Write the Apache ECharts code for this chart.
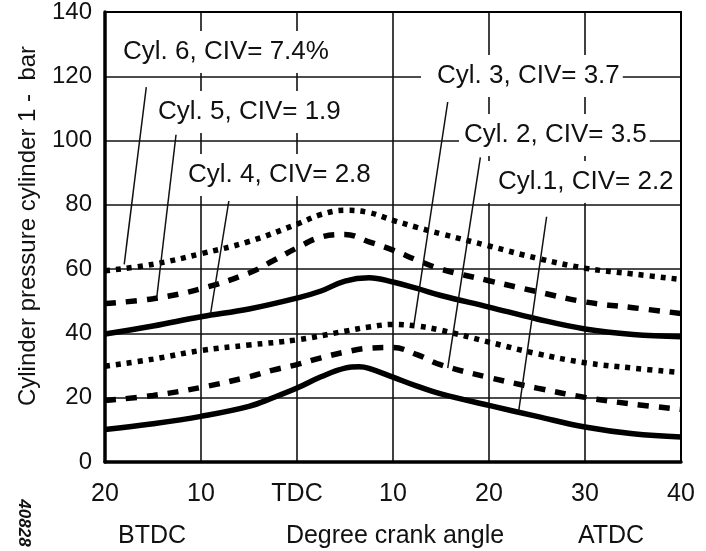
<!DOCTYPE html>
<html>
<head>
<meta charset="utf-8">
<script src="https://cdn.jsdelivr.net/npm/echarts@6/dist/echarts.min.js"></script>
<style>html,body{margin:0;padding:0;background:#fff}#c{width:706px;height:551px}</style>
</head>
<body>
<div id="c"></div>
<script>
// ---- data ----
const xTickLabels = ['20', '10', 'TDC', '10', '20', '30', '40'];
const yTicks = [0, 20, 40, 60, 80, 100, 120, 140];

const xCyl6 = [-20, -15, -10, -5, 0, 2.5, 5, 7.5, 10, 12.5, 15, 20, 25, 30, 35, 40];
const cyl6 = [59.5, 61.5, 64.8, 68.6, 74, 77, 78.3, 77.6, 75.2, 73, 71, 67.2, 63.4, 60.3, 58.5, 56.8];

const xCyl5 = [-20, -15, -10, -5, -2.5, 0, 2.5, 5, 7.5, 10, 12.5, 15, 20, 25, 30, 35, 40];
const cyl5 = [49.3, 50.8, 53.9, 58.8, 62.6, 66.6, 70, 70.8, 68.5, 65.9, 62.8, 60, 56.4, 53, 49.8, 48, 46.2];

const xCyl4 = [-20, -15, -10, -5, 0, 2.5, 5, 7.5, 10, 12.5, 15, 20, 25, 30, 35, 40];
const cyl4 = [39.8, 42.3, 45.2, 47.6, 51, 53.2, 56.3, 57.3, 56, 54, 51.8, 48.2, 44.5, 41.4, 39.7, 39];

const xCyl3 = [-20, -15, -10, -5, 0, 5, 7.5, 10, 12.5, 15, 20, 25, 30, 35, 40];
const cyl3 = [29.8, 32, 34.7, 36.4, 38, 40.7, 42, 42.8, 42.3, 41, 37.3, 33.7, 30.9, 29.2, 27.8];

const xCyl2 = [-20, -15, -10, -5, -2.5, 0, 2.5, 5, 7.5, 10, 12.5, 15, 20, 25, 30, 35, 40];
const cyl2 = [19.1, 20.7, 23.2, 26.5, 28.6, 30.3, 32.4, 34.2, 35.4, 35.6, 33.4, 30.2, 26.3, 23, 20.1, 18, 16.4];

const xCyl1 = [-20, -15, -10, -5, -2.5, 0, 2.5, 5, 6.5, 7.5, 10, 12.5, 15, 20, 25, 30, 35, 40];
const cyl1 = [10.1, 11.9, 14.2, 17.3, 20, 23, 26.5, 29.2, 29.6, 29.1, 26.4, 23.6, 21.2, 17.6, 14.2, 10.9, 8.8, 7.8];

const seriesNames = ['Cyl. 6, CIV= 7.4%', 'Cyl. 5, CIV= 1.9', 'Cyl. 4, CIV= 2.8',
                     'Cyl. 3, CIV= 3.7', 'Cyl. 2, CIV= 3.5', 'Cyl.1, CIV= 2.2'];

// leader lines: [label end (x,y), curve end (x,y)] in data units
const leader6 = [[-15.7, 116.6], [-18.0, 61.5]];
const leader5 = [[-12.6, 101.8], [-14.6, 51.4]];
const leader4 = [[-7.1, 81.2], [-9.0, 46.2]];
const leader3 = [[15.7, 112.0], [12.2, 43.1]];
const leader2 = [[19.1, 94.8], [15.7, 29.2]];
const leader1 = [[26.0, 76.3], [23.1, 16.0]];

// ---- build ----
function pairs(xs, ys) { return xs.map((x, i) => [x, ys[i]]); }
function leaderMark(l) {
  return {
    silent: true, symbol: 'none', animation: false,
    label: { show: false },
    lineStyle: { color: '#111', width: 1.5, type: 'solid' },
    data: [[{ coord: l[0] }, { coord: l[1] }]]
  };
}
const DOT = { type: [5, 6], cap: 'butt' };
const DASH = { type: [11, 10], cap: 'butt' };
const SOLID = { type: 'solid' };
const defs = [
  [xCyl6, cyl6, DOT, leader6],
  [xCyl5, cyl5, DASH, leader5],
  [xCyl4, cyl4, SOLID, leader4],
  [xCyl3, cyl3, DOT, leader3],
  [xCyl2, cyl2, DASH, leader2],
  [xCyl1, cyl1, SOLID, leader1]
];
const series = defs.map((d, i) => ({
  name: seriesNames[i],
  type: 'line',
  smooth: 0.4,
  showSymbol: false,
  animation: false,
  z: 3,
  lineStyle: Object.assign({ color: '#000', width: 5.5 }, d[2]),
  data: pairs(d[0], d[1]),
  markLine: leaderMark(d[3])
}));

const FONT = '"Liberation Sans", Arial, Helvetica, sans-serif';
// text left edge, text centre y, background padding [top,right,bottom,left]
const labelPos = [
  { x: 123, y: 52, pad: [8, 6, 8, 6] },
  { x: 158, y: 112, pad: [8, 6, 8, 6] },
  { x: 188, y: 175, pad: [8, 6, 8, 6] },
  { x: 437, y: 76, pad: [8, 3, 8, 16] },
  { x: 464, y: 135, pad: [8, 3, 8, 5] },
  { x: 498, y: 182, pad: [8, 3, 8, 10] }
];
const graphics = seriesNames.map((n, i) => ({
  type: 'text', z: 1, silent: true,
  x: labelPos[i].x - labelPos[i].pad[3], y: labelPos[i].y,
  style: {
    text: n, font: '26px ' + FONT, fill: '#111',
    align: 'left', verticalAlign: 'middle',
    backgroundColor: '#fff', padding: labelPos[i].pad
  }
}));
graphics.push(
  { type: 'text', silent: true, x: 28, y: 226, rotation: Math.PI / 2,
    style: { text: 'Cylinder pressure cylinder 1 -  bar', font: '24px ' + FONT, fill: '#111', align: 'center', verticalAlign: 'middle' } },
  { type: 'text', silent: true, x: 152, y: 536,
    style: { text: 'BTDC', font: '25px ' + FONT, fill: '#111', align: 'center', verticalAlign: 'middle' } },
  { type: 'text', silent: true, x: 395, y: 536,
    style: { text: 'Degree crank angle', font: '25px ' + FONT, fill: '#111', align: 'center', verticalAlign: 'middle' } },
  { type: 'text', silent: true, x: 611, y: 536,
    style: { text: 'ATDC', font: '25px ' + FONT, fill: '#111', align: 'center', verticalAlign: 'middle' } },
  { type: 'text', silent: true, x: 24, y: 523, rotation: -Math.PI / 2,
    style: { text: '40828', font: 'italic bold 17px ' + FONT, fill: '#111', align: 'center', verticalAlign: 'middle' } }
);

const chart = echarts.init(document.getElementById('c'), null, { renderer: 'canvas' });
chart.setOption({
  backgroundColor: '#fff',
  animation: false,
  grid: { left: 105, right: 25, top: 7, bottom: 89, containLabel: false },
  xAxis: [{
    type: 'value', min: -20, max: 40, interval: 10,
    axisLine: { show: true, lineStyle: { color: '#000', width: 3.5 } },
    axisTick: { show: false },
    axisLabel: { margin: 20, fontSize: 25, fontFamily: FONT, color: '#111',
      formatter: v => xTickLabels[Math.round((v + 20) / 10)] },
    splitLine: { show: true, lineStyle: { color: '#111', width: 1.6 } }
  }, {
    type: 'value', position: 'top', min: -20, max: 40, interval: 10,
    axisLine: { show: true, onZero: false, lineStyle: { color: '#000', width: 2 } },
    axisTick: { show: false }, axisLabel: { show: false }, splitLine: { show: false }
  }],
  yAxis: [{
    type: 'value', min: yTicks[0], max: yTicks[yTicks.length - 1], interval: 20,
    axisLine: { show: true, onZero: false, lineStyle: { color: '#000', width: 3.5 } },
    axisTick: { show: false },
    axisLabel: { margin: 13, fontSize: 24, fontFamily: FONT, color: '#111' },
    splitLine: { show: true, lineStyle: { color: '#111', width: 1.6 } }
  }, {
    type: 'value', position: 'right', min: 0, max: 140, interval: 20,
    axisLine: { show: true, onZero: false, lineStyle: { color: '#000', width: 2 } },
    axisTick: { show: false }, axisLabel: { show: false }, splitLine: { show: false }
  }],
  series: series,
  graphic: graphics
});
</script>
</body>
</html>
